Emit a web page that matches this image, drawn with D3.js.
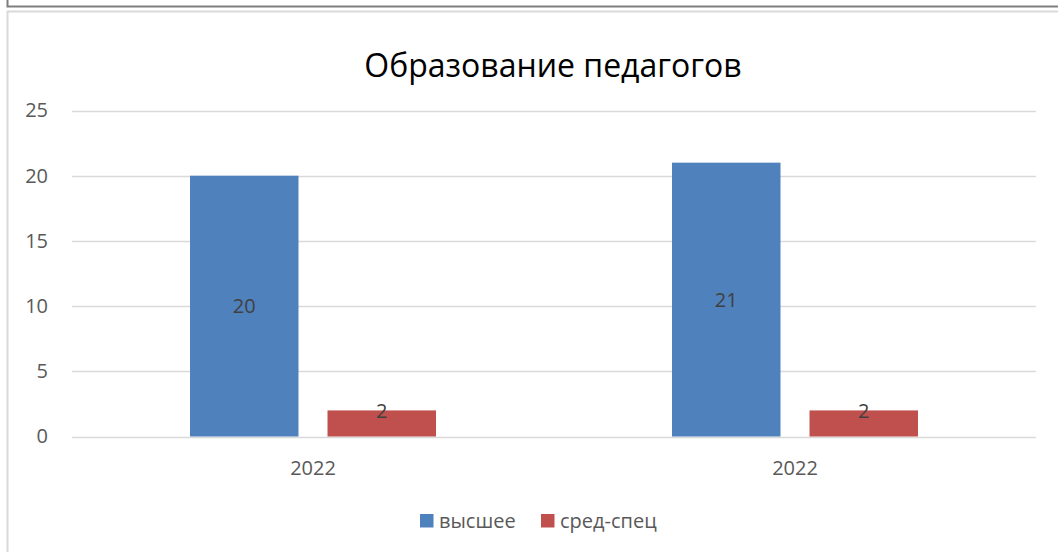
<!DOCTYPE html>
<html>
<head>
<meta charset="utf-8">
<script src="https://cdn.jsdelivr.net/npm/d3@7"></script>
<style>
  body { margin: 0; background: #fff; }
  svg text { font-family: 'Open Sans', sans-serif; }
</style>
</head>
<body>
<script>
const categories = ['2022', '2022']
const seriesNames = ['высшее', 'сред-спец']
const seriesColors = ['#4f81bd', '#c0504d']
const highValues = [20, 21]
const midValues = [2, 2]
const yTicks = [0, 5, 10, 15, 20, 25]

const width = 1058, height = 552
const plot = { left: 72, right: 1036, top: 110.5, bottom: 436.5 }
const labelSize = '20px'

const svg = d3.select('body').append('svg')
    .attr('width', width)
    .attr('height', height)

// frame lines from the sheet around the chart
svg.append('path')
    .attr('d', 'M7.5,0 V6.5 H1058')
    .attr('fill', 'none')
    .attr('stroke', '#7f7f7f')
    .attr('stroke-width', 2)
svg.append('path')
    .attr('d', 'M7.5,552 V11.5 H1058')
    .attr('fill', 'none')
    .attr('stroke', '#d9d9d9')
    .attr('stroke-width', 2)

const y = d3.scaleLinear().domain([0, 25]).range([plot.bottom, plot.top])
const x0 = d3.scaleBand().domain(d3.range(categories.length)).range([plot.left, plot.right])
const x1 = d3.scaleBand().domain(seriesNames).range([-123, 123]).paddingInner(0.211)

// gridlines
svg.append('g')
    .selectAll('line')
    .data(yTicks)
    .enter()
    .append('line')
    .attr('x1', plot.left)
    .attr('x2', plot.right)
    .attr('y1', d => Math.round(y(d)) + 0.5)
    .attr('y2', d => Math.round(y(d)) + 0.5)
    .attr('stroke', '#d9d9d9')
    .attr('stroke-width', 1.3)

// y axis labels
const yAxis = d3.axisLeft(y).tickValues(yTicks).tickSize(0).tickPadding(0)
svg.append('g')
    .attr('transform', 'translate(48,0)')
    .call(yAxis)
    .call(g => g.select('.domain').remove())
    .selectAll('text')
    .attr('fill', '#595959')
    .style('font-size', labelSize)
    .style('font-family', "'Open Sans', sans-serif")

// x axis labels
const xAxis = d3.axisBottom(x0).tickSize(0).tickPadding(0).tickFormat(i => categories[i])
svg.append('g')
    .attr('transform', 'translate(0,' + 461 + ')')
    .call(xAxis)
    .call(g => g.select('.domain').remove())
    .selectAll('text')
    .attr('fill', '#595959')
    .style('font-size', labelSize)
    .style('font-family', "'Open Sans', sans-serif")

const barData = []
categories.forEach((c, i) => {
    barData.push({ cat: i, series: seriesNames[0], value: highValues[i], color: seriesColors[0] })
    barData.push({ cat: i, series: seriesNames[1], value: midValues[i], color: seriesColors[1] })
})

const bars = svg.append('g')
    .selectAll('g')
    .data(barData)
    .enter()
    .append('g')
    .attr('transform', d => 'translate(' + (x0(d.cat) + x0.bandwidth() / 2 + x1(d.series)) + ',0)')

bars.append('rect')
    .attr('width', x1.bandwidth())
    .attr('y', d => y(d.value))
    .attr('height', d => y(0) - y(d.value))
    .attr('fill', d => d.color)

bars.append('text')
    .attr('x', x1.bandwidth() / 2)
    .attr('y', d => d.value > 5 ? y(d.value / 2) : y(d.value) + 1)
    .attr('dy', '0.35em')
    .attr('text-anchor', 'middle')
    .attr('fill', '#404040')
    .style('font-size', labelSize)
    .text(d => d.value)

// title
svg.append('text')
    .attr('x', 553)
    .attr('y', 77)
    .attr('text-anchor', 'middle')
    .attr('fill', '#000')
    .style('font-size', '32px')
    .text('Образование педагогов')

// legend
const legend = svg.append('g').attr('transform', 'translate(420,514)')
const legendX = [0, 121]
seriesNames.forEach((name, i) => {
    legend.append('rect')
        .attr('x', legendX[i])
        .attr('width', 13.5)
        .attr('height', 13.5)
        .attr('fill', seriesColors[i])
    legend.append('text')
        .attr('x', legendX[i] + 19)
        .attr('y', 7)
        .attr('dy', '0.35em')
        .attr('fill', '#595959')
        .style('font-size', labelSize)
        .text(name)
})
</script>
</body>
</html>
